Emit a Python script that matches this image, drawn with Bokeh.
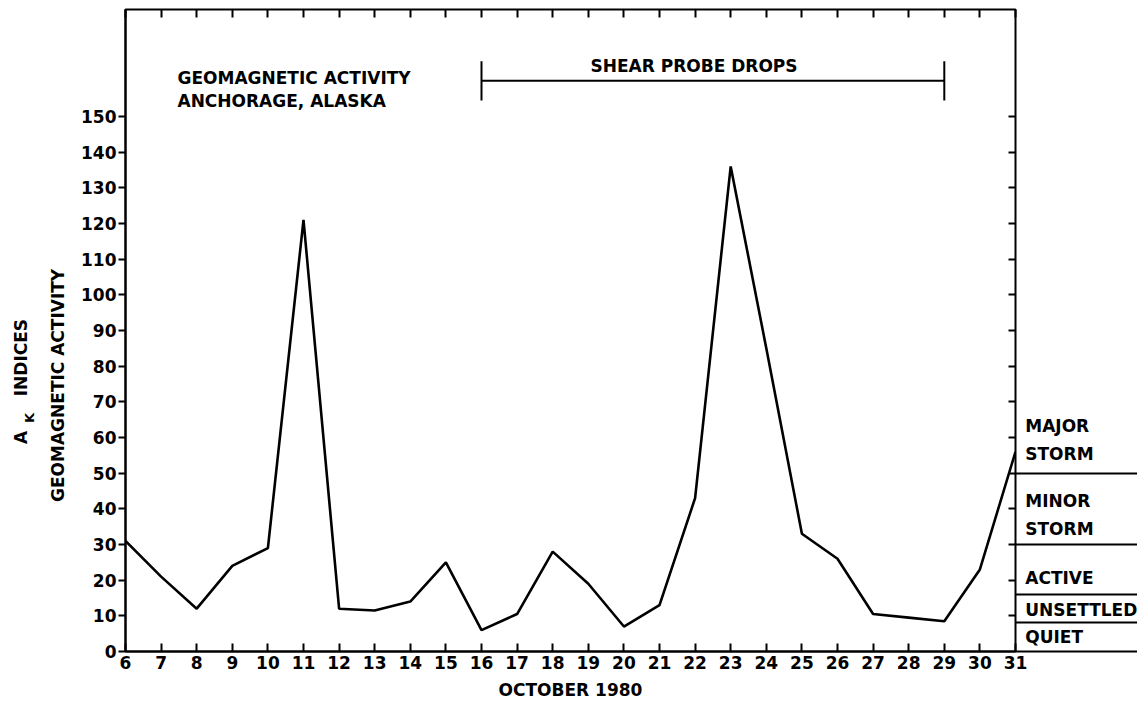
import math
from bokeh.plotting import figure
from bokeh.models import Range1d, LinearAxis, FixedTicker
from bokeh.layouts import row
from bokeh.core.properties import value
from bokeh.embed import file_html
from bokeh.resources import INLINE

# ---------------- data ----------------
days = list(range(6, 32))
ak_index = [31, 21, 12, 24, 29, 121, 12, 11.5, 14, 25, 6, 10.5, 28, 19, 7,
            13, 43, 136, 85, 33, 26, 10.5, 9.5, 8.5, 23, 56]
y_ticks = list(range(0, 151, 10))
right_ticks = list(range(10, 151, 10))
title_lines = ["GEOMAGNETIC ACTIVITY", "ANCHORAGE, ALASKA"]
probe_start = 16
probe_end = 29
probe_label = "SHEAR PROBE DROPS"
x_label = "OCTOBER 1980"
y_label_main = "GEOMAGNETIC ACTIVITY"
y_label_parts = ["A", "K", "INDICES"]
band_bounds = [8, 16, 30, 50]
band_labels = ["MAJOR\nSTORM", "MINOR\nSTORM", "ACTIVE", "UNSETTLED", "QUIET"]

# ---------------- layout / style ----------------
FONT = "DejaVu Sans"
FS = "17px"
Y_MAX = 180
H = 711
TOP = 9
BOTTOM = 60
PAD_R = 14
band_label_y = [59.2, 38.4, 20.7, 11.5, 4.2]


def bare(fig):
    fig.grid.visible = False
    fig.background_fill_color = None
    fig.border_fill_color = None


def tick_only_axis(ticks):
    return LinearAxis(ticker=FixedTicker(ticks=ticks),
                      major_label_overrides={t: "" for t in ticks},
                      major_label_text_font_size="0px", major_label_standoff=0,
                      axis_line_color=None, minor_tick_line_color=None,
                      major_tick_line_width=2, major_tick_line_color="black")


# ---------------- main panel ----------------
p = figure(width=940 + PAD_R, height=H, x_range=Range1d(6, 31), y_range=Range1d(0, Y_MAX),
           output_backend="svg", toolbar_location=None,
           min_border_left=50, min_border_right=PAD_R, min_border_top=TOP,
           min_border_bottom=BOTTOM)
bare(p)
p.outline_line_color = "black"
p.outline_line_width = 2
p.outline_line_alpha = 1.0

xa = p.xaxis[0]
xa.ticker = FixedTicker(ticks=days)
xa.major_tick_in = 8
xa.major_tick_out = 0
xa.minor_tick_line_color = None
xa.axis_line_width = 2
xa.major_tick_line_width = 2
xa.major_label_text_font = FONT
xa.major_label_text_font_style = "bold"
xa.major_label_text_font_size = FS
xa.major_label_text_color = "black"
xa.major_label_standoff = 4
xa.axis_label = x_label
xa.axis_label_text_font = FONT
xa.axis_label_text_font_style = "bold"
xa.axis_label_text_font_size = FS
xa.axis_label_text_color = "black"
xa.axis_label_standoff = 8

ya = p.yaxis[0]
ya.ticker = FixedTicker(ticks=y_ticks)
ya.major_tick_in = 0
ya.major_tick_out = 7
ya.minor_tick_line_color = None
ya.axis_line_width = 2
ya.major_tick_line_width = 2
ya.major_label_text_font = FONT
ya.major_label_text_font_style = "bold"
ya.major_label_text_font_size = FS
ya.major_label_text_color = "black"
ya.major_label_standoff = 2

top = tick_only_axis(days)
top.major_tick_in = 8
top.major_tick_out = 0
p.add_layout(top, "above")

right = tick_only_axis(right_ticks)
right.major_tick_in = 7
right.major_tick_out = 0
p.add_layout(right, "right")

p.line(days, ak_index, line_color="black", line_width=2.6)

# title lines inside the frame
p.text(x=[7.46, 7.46], y=[160.9, 154.4], text=title_lines,
       text_font=value(FONT), text_font_style="bold", text_font_size=FS,
       text_align="left", text_baseline="middle", text_color="black")

# shear probe bracket
p.segment(x0=[probe_start], y0=[160], x1=[probe_end], y1=[160],
          line_color="black", line_width=2)
p.segment(x0=[probe_start, probe_end], y0=[154.5, 154.5],
          x1=[probe_start, probe_end], y1=[165.5, 165.5],
          line_color="black", line_width=2)
p.text(x=[19.06], y=[164.2], text=[probe_label],
       text_font=value(FONT), text_font_style="bold", text_font_size=FS,
       text_align="left", text_baseline="middle", text_color="black")

# ---------------- left panel: y-axis titles ----------------
p0 = figure(width=75, height=H, x_range=Range1d(0, 75), y_range=p.y_range,
            output_backend="svg", toolbar_location=None,
            x_axis_location=None, y_axis_location=None,
            min_border_left=0, min_border_right=0, min_border_top=TOP,
            min_border_bottom=BOTTOM)
bare(p0)
p0.outline_line_color = None
p0.text(x=[20, 28.5, 20], y=[60, 65.5, 82.4], text=y_label_parts,
        text_font=value(FONT), text_font_style="bold",
        text_font_size=[FS, "13px", FS],
        text_align="center", text_baseline="middle", text_color="black",
        angle=math.pi / 2)
p0.text(x=[57], y=[74.6], text=[y_label_main],
        text_font=value(FONT), text_font_style="bold", text_font_size=FS,
        text_align="center", text_baseline="middle", text_color="black",
        angle=math.pi / 2)

# ---------------- right panel: activity scale ----------------
p2 = figure(width=122, height=H, x_range=Range1d(0, 1), y_range=p.y_range,
            output_backend="svg", toolbar_location=None, y_axis_location=None,
            min_border_left=0, min_border_right=0, min_border_top=TOP,
            min_border_bottom=BOTTOM)
bare(p2)
p2.margin = (0, 0, 0, -PAD_R)
p2.outline_line_color = None
xb = p2.xaxis[0]
xb.ticker = FixedTicker(ticks=[])
xb.major_label_text_font_size = "0px"
xb.major_tick_line_color = None
xb.minor_tick_line_color = None
xb.axis_line_width = 2
xb.axis_line_color = "black"

p2.hspan(y=band_bounds, line_color="black", line_width=2)
p2.text(x=[0.08] * len(band_labels), y=band_label_y, text=band_labels,
        text_font=value(FONT), text_font_style="bold", text_font_size=FS,
        text_align="left", text_baseline="middle", text_color="black",
        text_line_height=1.4)

layout = row(p0, p, p2)
open("out.html", "w").write(file_html(layout, INLINE))
